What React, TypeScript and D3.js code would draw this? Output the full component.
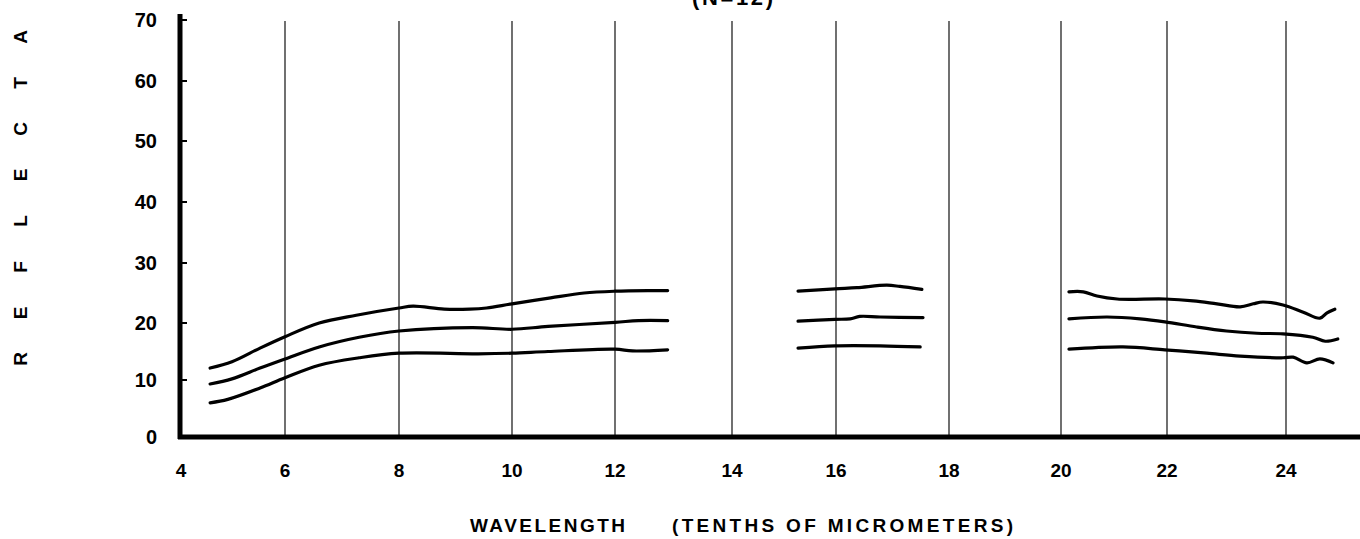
import React from 'react';
import * as d3 from 'd3';

type Pt = [number, number];

// axis ticks
const xTicks = [4, 6, 8, 10, 12, 14, 16, 18, 20, 22, 24];
const yTicks = [0, 10, 20, 30, 40, 50, 60, 70];
const yTitle = 'REFLECTA'; // rest of the word runs off the top of the page
const xTitleA = 'WAVELENGTH';
const xTitleB = '(TENTHS OF MICROMETERS)';
const chartTitle = '(N=12)';

// upper curve (wavelength in tenths of µm, reflectance %)
const upper1: Pt[] = [
	[4.56, 12.1], [4.98, 13.2], [5.52, 15.6], [6.0, 17.6], [6.6, 20.0], [7.25, 21.3],
	[8.0, 22.5], [8.25, 22.8], [8.8, 22.3], [9.25, 22.3], [9.55, 22.5], [10.0, 23.2],
	[10.75, 24.2], [11.4, 25.0], [12.0, 25.3], [12.6, 25.4], [12.9, 25.4],
];
const upper2: Pt[] = [
	[15.27, 25.3], [15.98, 25.7], [16.37, 25.9], [16.9, 26.3], [17.13, 26.1], [17.52, 25.6],
];
const upper3: Pt[] = [
	[20.15, 25.2], [20.42, 25.2], [20.68, 24.5], [21.06, 24.0], [21.96, 24.0], [22.44, 23.7],
	[22.84, 23.2], [23.23, 22.7], [23.45, 23.2], [23.61, 23.5], [23.95, 23.0], [24.29, 21.8],
	[24.57, 20.8], [24.69, 21.7], [24.82, 22.3],
];

// mean curve
const mean1: Pt[] = [
	[4.56, 9.3], [4.98, 10.2], [5.52, 12.1], [6.0, 13.7], [6.6, 15.8], [7.3, 17.5],
	[8.0, 18.6], [9.3, 19.2], [10.0, 18.9], [10.7, 19.4], [12.0, 20.1], [12.4, 20.4], [12.9, 20.4],
];
const mean2: Pt[] = [
	[15.27, 20.3], [15.98, 20.6], [16.25, 20.7], [16.42, 21.1], [16.78, 21.0], [17.54, 20.9],
];
const mean3: Pt[] = [
	[20.15, 20.7], [20.87, 21.0], [21.49, 20.7], [21.96, 20.2], [22.5, 19.3], [23.0, 18.6],
	[23.51, 18.2], [23.95, 18.1], [24.45, 17.5], [24.66, 16.8], [24.87, 17.2],
];

// lower curve
const lower1: Pt[] = [
	[4.56, 6.0], [4.9, 6.6], [5.52, 8.6], [6.0, 10.4], [6.6, 12.6], [7.3, 13.9],
	[8.0, 14.7], [9.4, 14.6], [10.0, 14.7], [10.7, 15.0], [12.0, 15.4], [12.3, 15.1], [12.9, 15.3],
];
const lower2: Pt[] = [
	[15.27, 15.6], [15.98, 16.0], [16.78, 16.0], [17.49, 15.8],
];
const lower3: Pt[] = [
	[20.15, 15.4], [21.17, 15.8], [21.96, 15.3], [22.67, 14.7], [23.23, 14.2], [23.95, 13.9],
	[24.12, 14.0], [24.35, 13.0], [24.57, 13.7], [24.79, 13.0],
];

const segments = [upper1, upper2, upper3, mean1, mean2, mean3, lower1, lower2, lower3];

const W = 1360;
const H = 539;
const font = '"Liberation Sans", Arial, sans-serif';

// the original is hand drawn, so the grid spacing is slightly uneven
const x = d3
	.scaleLinear()
	.domain([4, 6, 8, 10, 12, 14, 16, 18, 20, 22, 24, 26])
	.range([181, 285, 399, 512, 615, 732, 836, 949, 1061, 1167, 1286, 1405]);
const y = d3
	.scaleLinear()
	.domain(yTicks)
	.range([437, 380, 323, 263, 202, 141, 81, 20]);

const line = d3
	.line<Pt>()
	.x((d) => x(d[0]))
	.y((d) => y(d[1]))
	.curve(d3.curveCatmullRom.alpha(0.5));

const App: React.FC = () => {
	const axisX = x(4) - 1;
	const axisY = y(0);
	return (
		<svg
			width={W}
			height={H}
			style={{ position: 'absolute', left: 0, top: 0, display: 'block', background: '#fff' }}
		>
			{/* title, mostly cut off at the top */}
			<text
				x={692}
				y={5}
				textLength={81}
				lengthAdjust="spacing"
				fontFamily={font}
				fontWeight="bold"
				fontSize={22}
				fill="#000"
			>
				{chartTitle}
			</text>

			{/* vertical grid lines */}
			{xTicks.slice(1).map((t) => (
				<line key={t} x1={x(t)} x2={x(t)} y1={21} y2={axisY} stroke="#111" strokeWidth={1.2} />
			))}

			{/* y axis */}
			<line x1={axisX} x2={axisX} y1={14} y2={axisY + 2} stroke="#000" strokeWidth={5} />
			{yTicks.map((t) => (
				<g key={t}>
					<line x1={axisX} x2={axisX + 7} y1={y(t)} y2={y(t)} stroke="#000" strokeWidth={2} />
					<text
						x={157}
						y={y(t) + 7}
						textAnchor="end"
						fontFamily={font}
						fontWeight="bold"
						fontSize={20}
						fill="#000"
					>
						{t}
					</text>
				</g>
			))}

			{/* x axis */}
			<line x1={axisX - 2} x2={W} y1={axisY} y2={axisY} stroke="#000" strokeWidth={5} />
			{xTicks.map((t) => (
				<text
					key={t}
					x={x(t)}
					y={477}
					textAnchor="middle"
					fontFamily={font}
					fontWeight="bold"
					fontSize={19}
					fill="#000"
				>
					{t}
				</text>
			))}

			{/* x axis title */}
			<text
				x={470}
				y={532}
				textLength={155}
				lengthAdjust="spacing"
				fontFamily={font}
				fontWeight="bold"
				fontSize={19}
				fill="#000"
			>
				{xTitleA}
			</text>
			<text
				x={672}
				y={532}
				textLength={341}
				lengthAdjust="spacing"
				fontFamily={font}
				fontWeight="bold"
				fontSize={19}
				fill="#000"
			>
				{xTitleB}
			</text>

			{/* y axis title, spaced letters reading upwards */}
			{yTitle.split('').map((c, i) => {
				const cy = 359 - i * 46;
				return (
					<text
						key={i}
						transform={`translate(27, ${cy}) rotate(-90)`}
						textAnchor="middle"
						fontFamily={font}
						fontWeight="bold"
						fontSize={19}
						fill="#000"
					>
						{c}
					</text>
				);
			})}

			{/* reflectance curves */}
			{segments.map((s, i) => (
				<path
					key={i}
					d={line(s) as string}
					fill="none"
					stroke="#000"
					strokeWidth={3.2}
					strokeLinecap="round"
					strokeLinejoin="round"
				/>
			))}
		</svg>
	);
};

export default App;
